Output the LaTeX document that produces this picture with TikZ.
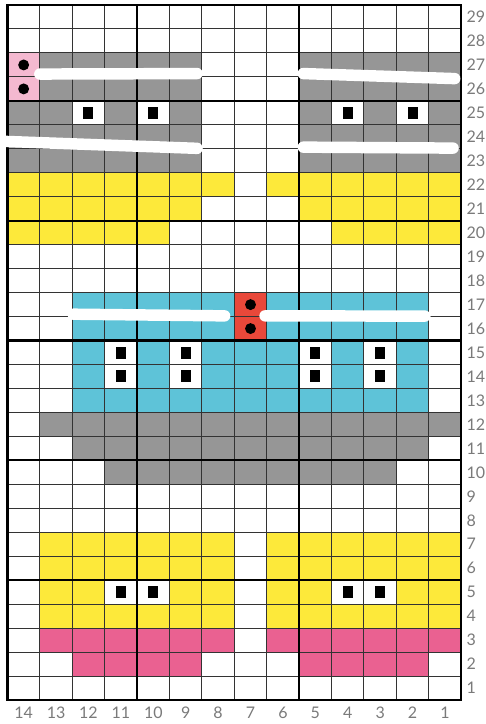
\documentclass[tikz,border=0pt]{standalone}
\usepackage{fontspec}
\setsansfont{Lato}
\usepackage{tikz}
\usepackage{xcolor}
\definecolor{chartgray}{HTML}{969696}
\definecolor{chartyellow}{HTML}{FDE93A}
\definecolor{chartblue}{HTML}{5EC3D8}
\definecolor{chartred}{HTML}{E8483A}
\definecolor{chartpink}{HTML}{EA6191}
\definecolor{chartrose}{HTML}{F4B9D0}
\definecolor{labelgray}{HTML}{7A7A7A}

\begin{document}
\begin{tikzpicture}[x=24.3pt, y=17.97pt,
  every node/.style={font=\sffamily\fontsize{12}{12}\selectfont, text=labelgray},
  gridline/.style={draw=black!80, line width=0.75pt},
  boldline/.style={draw=black, line width=1.6pt},
  bar/.style={draw=white, line width=8.6pt, line cap=round},
  bobble/.style={circle, fill=black, inner sep=0pt, minimum size=8.2pt},
  purl/.style={rectangle, fill=black, inner sep=0pt, minimum width=7.5pt, minimum height=9pt}]
\useasboundingbox (-0.23,-1.0) rectangle (14.74,29.21);
\fill[white] (-0.23,-1.0) rectangle (14.74,29.21);
% colour blocks
\foreach \xa/\ya/\xb/\yb in {1/25/6/27, 9/25/14/27, 0/24/2/25, 3/24/4/25, 5/24/6/25,
  9/24/10/25, 11/24/12/25, 13/24/14/25, 0/22/6/24, 9/22/14/24, 1/11/14/12, 2/10/13/11, 3/9/12/10}
  \fill[chartgray] (\xa,\ya) rectangle (\xb,\yb);
\fill[chartrose] (0,25) rectangle (1,27);
\foreach \xa/\ya/\xb/\yb in {0/21/7/22, 8/21/14/22, 0/20/6/21, 9/20/14/21, 0/19/5/20, 10/19/14/20,
  1/3/7/4, 1/5/7/7, 1/4/3/5, 5/4/7/5, 8/3/14/4, 8/5/14/7, 8/4/10/5, 12/4/14/5}
  \fill[chartyellow] (\xa,\ya) rectangle (\xb,\yb);
\foreach \xa/\ya/\xb/\yb in {2/12/13/13, 2/15/7/17, 8/15/13/17,
  2/13/3/15, 4/13/5/15, 6/13/9/15, 10/13/11/15, 12/13/13/15}
  \fill[chartblue] (\xa,\ya) rectangle (\xb,\yb);
\fill[chartred] (7,15) rectangle (8,17);
\foreach \xa/\ya/\xb/\yb in {1/2/7/3, 8/2/14/3, 2/1/6/2, 9/1/13/2}
  \fill[chartpink] (\xa,\ya) rectangle (\xb,\yb);
% grid
\foreach \i in {1,...,13} \draw[gridline] (\i,0) -- (\i,29);
\foreach \j in {1,...,28} \draw[gridline] (0,\j) -- (14,\j);
\foreach \i in {4,9} \draw[boldline] (\i,0) -- (\i,29);
\foreach \j in {5,10,...,25} \draw[boldline] (0,\j) -- (14,\j);
\draw[boldline, line width=2pt] (0,0) rectangle (14,29);
% white strands
\draw[bar] (1.0,26.12) -- (5.85,26.14);
\draw[bar] (9.13,26.14) -- (13.8,25.93);
\draw[bar] (-0.07,23.31) -- (5.85,23.02);
\draw[bar] (9.13,23.07) -- (13.75,23.03);
\draw[bar] (2.03,16.1) -- (6.7,16.03);
\draw[bar] (7.95,16.03) -- (12.88,16.02);
% stitch symbols
\foreach \x/\y [count=\k] in {0.5/26.5, 0.5/25.5, 7.5/16.5, 7.5/15.5}
  \node[bobble] (dot\k) at (\x,\y) {};
\foreach \x/\y [count=\k] in {2.5/24.5, 4.5/24.5, 10.5/24.5, 12.5/24.5,
  3.5/14.5, 5.5/14.5, 9.5/14.5, 11.5/14.5, 3.5/13.5, 5.5/13.5, 9.5/13.5, 11.5/13.5,
  3.5/4.5, 4.5/4.5, 10.5/4.5, 11.5/4.5}
  \node[purl] (sq\k) at (\x,\y) {};
% numbers
\foreach \c in {1,...,14} \node (col\c) at (14.5-\c,-0.54) {\c};
\foreach \r in {1,...,29} \node[anchor=west, inner sep=1pt] (row\r) at (14.12,\r-0.5) {\r};
\end{tikzpicture}
\end{document}
